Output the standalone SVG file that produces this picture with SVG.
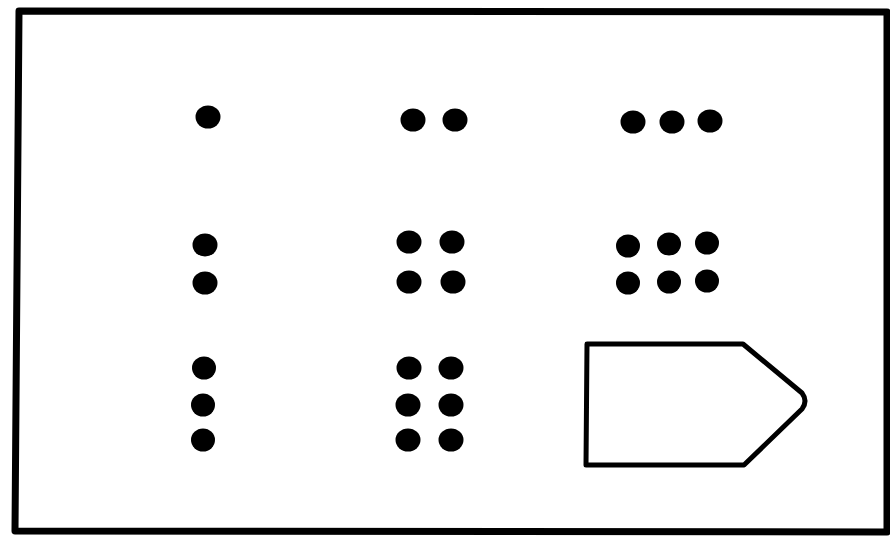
<svg xmlns="http://www.w3.org/2000/svg" width="890" height="540" viewBox="0 0 890 540">
<style>
.dot{fill:#000}
.frame{fill:none;stroke:#000;stroke-width:7;stroke-linejoin:round}
.shape{fill:#fff;stroke:#000;stroke-width:5;stroke-linejoin:round}
</style>
<rect width="890" height="540" fill="#fff"/>
<path class="frame" d="M19,11 L887,12 L887,532 L15,531 Z"/>
<g id="n1"><ellipse class="dot" cx="208" cy="117" rx="12.5" ry="11.5"/></g>
<g id="n2"><ellipse class="dot" cx="413" cy="120" rx="12.5" ry="11.5"/><ellipse class="dot" cx="455" cy="120" rx="12.5" ry="11.5"/></g>
<g id="n3"><ellipse class="dot" cx="633" cy="122" rx="12.5" ry="11.5"/><ellipse class="dot" cx="672" cy="122" rx="12.5" ry="11.5"/><ellipse class="dot" cx="710" cy="121" rx="12.5" ry="11.5"/></g>
<g id="n4"><ellipse class="dot" cx="205" cy="245" rx="12.5" ry="11.5"/><ellipse class="dot" cx="205" cy="283" rx="12.5" ry="11.5"/></g>
<g id="n5"><ellipse class="dot" cx="409" cy="242" rx="12.5" ry="11.5"/><ellipse class="dot" cx="452" cy="242" rx="12.5" ry="11.5"/><ellipse class="dot" cx="409" cy="282" rx="12.5" ry="11.5"/><ellipse class="dot" cx="453" cy="282" rx="12.5" ry="11.5"/></g>
<g id="n6"><ellipse class="dot" cx="628" cy="246" rx="12" ry="11.5"/><ellipse class="dot" cx="669" cy="244" rx="12" ry="11.5"/><ellipse class="dot" cx="707" cy="243" rx="12" ry="11.5"/><ellipse class="dot" cx="628" cy="283" rx="12" ry="11.5"/><ellipse class="dot" cx="669" cy="282" rx="12" ry="11.5"/><ellipse class="dot" cx="707" cy="281" rx="12" ry="11.5"/></g>
<g id="n7"><ellipse class="dot" cx="204" cy="368" rx="12" ry="11.5"/><ellipse class="dot" cx="203" cy="405" rx="12" ry="11.5"/><ellipse class="dot" cx="203" cy="440" rx="12" ry="11.5"/></g>
<g id="n8"><ellipse class="dot" cx="409" cy="368" rx="12.5" ry="11.5"/><ellipse class="dot" cx="451" cy="368" rx="12.5" ry="11.5"/><ellipse class="dot" cx="408" cy="405" rx="12.5" ry="11.5"/><ellipse class="dot" cx="451" cy="405" rx="12.5" ry="11.5"/><ellipse class="dot" cx="408" cy="440" rx="12.5" ry="11.5"/><ellipse class="dot" cx="451" cy="440" rx="12.5" ry="11.5"/></g>
<g id="n9"><path class="shape" d="M587,344 L743,344 L802,393 Q808,401 802,409 L744,465 L586,465 Z"/></g>
<g id="connectors"></g>
</svg>
